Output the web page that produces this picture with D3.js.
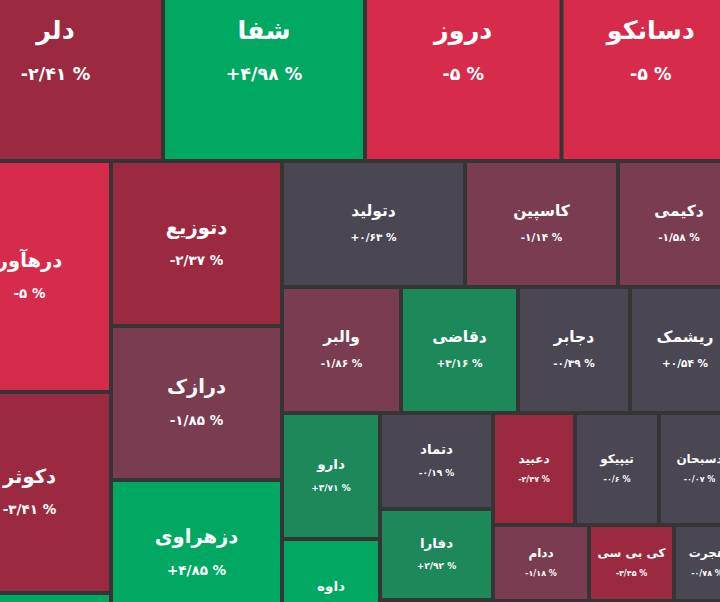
<!DOCTYPE html>
<html>
<head>
<meta charset="utf-8">
<script src="https://cdn.jsdelivr.net/npm/d3@7"></script>
<style>
  html, body { margin: 0; padding: 0; background: #353535; overflow: hidden; }
</style>
</head>
<body>
<script>
const width = 720, height = 602;

// one entry per cell, in layout order; "" = cell whose label lies outside the crop
const symbols = [
  "دلر", "شفا", "دروز", "دسانکو",
  "درهآور", "دکوثر", "",
  "دتوزیع", "درازک", "دزهراوی", "",
  "دتولید", "کاسپین", "دکیمی",
  "والبر", "دقاضی", "دجابر", "ریشمک",
  "دارو", "داوه",
  "دتماد", "دفارا", "",
  "دعبید", "تیپیکو", "دسبحان",
  "ددام", "کی بی سی", "هجرت",
  ""
];

// nesting of the treemap (rows / columns)
const groups = [
  "top", "top", "top", "top",
  "bottom/c1", "bottom/c1", "bottom/c1",
  "bottom/c2", "bottom/c2", "bottom/c2", "bottom/c2",
  "bottom/rest/a", "bottom/rest/a", "bottom/rest/a",
  "bottom/rest/b", "bottom/rest/b", "bottom/rest/b", "bottom/rest/b",
  "bottom/rest/c/c1", "bottom/rest/c/c1",
  "bottom/rest/c/c2", "bottom/rest/c/c2", "bottom/rest/c/c2",
  "bottom/rest/c/c3/a", "bottom/rest/c/c3/a", "bottom/rest/c/c3/a",
  "bottom/rest/c/c3/b", "bottom/rest/c/c3/b", "bottom/rest/c/c3/b",
  "bottom/rest/c/c3/z"
];

// cell weight (market value)
const weights = [
  46870, 44036, 42837, 38913,
  37653, 32763, 10432,
  28215, 26334, 24966, 5301,
  23058, 19278, 15372,
  14994, 14742, 14112, 13860,
  12348, 11564,
  10848, 10283, 6441,
  9184, 9408, 9072,
  7296, 6460, 5016,
  13832
];

// daily change, percent
const changes = [
  -2.41, 4.98, -5, -5,
  -5, -3.41, 4.9,
  -2.37, -1.85, 4.85, null,
  0.63, -1.14, -1.58,
  -1.86, 3.16, -0.39, 0.54,
  3.71, 4.9,
  -0.19, 2.92, null,
  -2.47, -0.6, -0.07,
  -1.18, -3.45, -0.78,
  null
];

// build nested tree from the group paths, keeping order
const tree = { name: "root", children: [] };
symbols.forEach((s, i) => {
  let node = tree;
  groups[i].split("/").forEach(key => {
    let next = node.children.find(c => c.key === key);
    if (!next) { next = { key, children: [] }; node.children.push(next); }
    node = next;
  });
  node.children.push({ name: s, value: weights[i], change: changes[i] });
});

const color = d3.scaleThreshold()
  .domain([-4.5, -2, -1, 1, 4.5])
  .range(["#d62b4b", "#9b2a41", "#7a3c50", "#4a4652", "#1d895b", "#00a862"]);

const root = d3.hierarchy(tree).sum(d => d.value || 0);

d3.treemap()
  .tile((node, x0, y0, x1, y1) =>
    (node.depth % 2 ? d3.treemapDice : d3.treemapSlice)(node, x0, y0, x1, y1))
  .size([788, 710])
  .paddingInner(4)(root);

const fa = s => s.replace(/\d/g, d => "۰۱۲۳۴۵۶۷۸۹"[d]);
const fmt = v => (v > 0 ? "+" : "-") + fa(String(Math.abs(v)).replace(".", "/")) + " %";

// label sizes by nesting depth (deeper = smaller cells)
const nameSize = [0, 0, 25.5, 19.5, 15.5, 13.5, 12];
const pctSize = [0, 0, 17.5, 13.5, 10.5, 9, 8];

const svg = d3.select("body").append("svg")
  .attr("width", width)
  .attr("height", height)
  .style("display", "block");

svg.append("rect").attr("width", width).attr("height", height).attr("fill", "#353535");

const g = svg.append("g").attr("transform", "translate(-50,-55)");

const cell = g.selectAll("g")
  .data(root.leaves())
  .join("g");

cell.append("rect")
  .attr("x", d => d.x0)
  .attr("y", d => d.y0)
  .attr("width", d => d.x1 - d.x0)
  .attr("height", d => d.y1 - d.y0)
  .attr("fill", d => d.data.change == null ? "#4a4652" : color(d.data.change));

const lab = cell.filter(d => d.data.name)
  .append("g")
  .attr("transform", d => `translate(${(d.x0 + d.x1) / 2},${(d.y0 + d.y1) / 2})`)
  .attr("fill", "#fff")
  .attr("text-anchor", "middle")
  .attr("font-family", "'DejaVu Sans', sans-serif")
  .attr("font-weight", "bold");

lab.append("text")
  .attr("y", d => -0.78 * nameSize[d.depth])
  .attr("dominant-baseline", "middle")
  .attr("font-size", d => nameSize[d.depth])
  .text(d => d.data.name);

lab.append("text")
  .attr("y", d => 0.5 * nameSize[d.depth] + 0.6 * pctSize[d.depth])
  .attr("dominant-baseline", "middle")
  .attr("font-size", d => pctSize[d.depth])
  .text(d => fmt(d.data.change));
</script>
</body>
</html>
